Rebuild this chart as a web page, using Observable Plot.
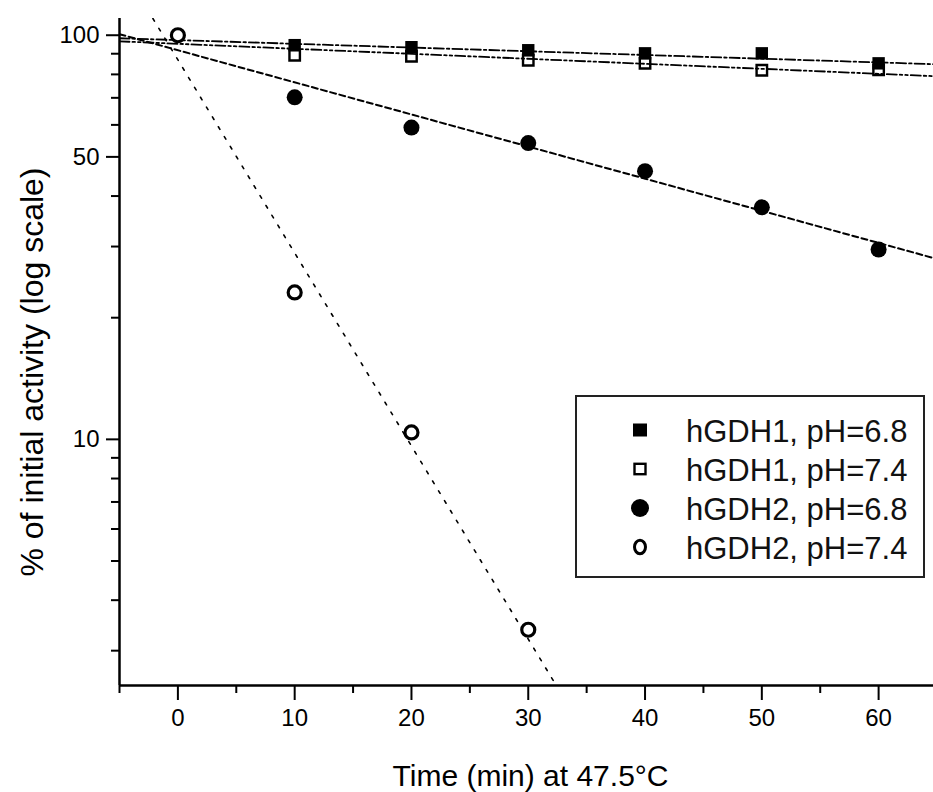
<!DOCTYPE html>
<html>
<head>
<meta charset="utf-8">
<script src="https://cdn.jsdelivr.net/npm/d3@7"></script>
<script src="https://cdn.jsdelivr.net/npm/@observablehq/plot@0.6"></script>
<style>
  html, body { margin: 0; padding: 0; background: #fff; }
  #wrap { position: relative; width: 933px; height: 792px; font-family: 'Liberation Sans', Arial, sans-serif; }
  #legend { position: absolute; left: 575px; top: 395px; }
</style>
</head>
<body>
<div id="wrap"></div>
<script>
// ---- data ----
const timesSquares = [10, 20, 30, 40, 50, 60];
const hGDH1_pH68 = [94.5, 93.4, 91.8, 90.2, 90.2, 85.2];
const hGDH1_pH74 = [89.2, 88.7, 86.7, 85.2, 81.9, 82.1];
const timesFilledCircles = [10, 20, 30, 40, 50, 60];
const hGDH2_pH68 = [70.2, 59.1, 54.1, 46.1, 37.5, 29.5];
const timesOpenCircles = [0, 10, 20, 30];
const hGDH2_pH74 = [100, 23.1, 10.4, 3.38];

// fitted lines (end points)
const fitTimes = [-5, 64.7];
const fit_hGDH1_pH68 = [98.3, 84.8];
const fit_hGDH1_pH74 = [96.6, 79.2];
const fit_hGDH2_pH68 = [100.6, 28.1];
const fitTimes_hGDH2_pH74 = [-2.14, 32.4];
const fit_hGDH2_pH74 = [110, 2.46];

// axes
const xDomain = [-5, 64.7];
const yDomain = [2.46, 110];
const xMajorTicks = [0, 10, 20, 30, 40, 50, 60];
const xMinorTicks = [-5, 5, 15, 25, 35, 45, 55];
const yMajorTicks = [10, 50, 100];
const yMinorTicks = [3, 4, 5, 6, 7, 8, 9, 20, 30, 40, 60, 70, 80, 90];
const xTitle = "Time (min) at 47.5°C";
const yTitle = "% of initial activity (log scale)";
const legendLabels = ["hGDH1, pH=6.8", "hGDH1, pH=7.4", "hGDH2, pH=6.8", "hGDH2, pH=7.4"];

const table = (ts, vs) => ts.map((t, i) => ({t, v: vs[i]}));

const chart = Plot.plot({
  width: 933,
  height: 792,
  marginLeft: 119,
  marginRight: 0,
  marginTop: 18,
  marginBottom: 107,
  x: {type: "linear", domain: xDomain},
  y: {type: "log", domain: yDomain},
  style: {fontFamily: "'Liberation Sans', Arial, sans-serif", fontSize: "24px", color: "#000", background: "white"},
  marks: [
    // fit lines
    Plot.line(table(fitTimes, fit_hGDH1_pH68), {x: "t", y: "v", stroke: "#000", strokeWidth: 1.8, strokeDasharray: "10,3,2.5,3", clip: true}),
    Plot.line(table(fitTimes, fit_hGDH1_pH74), {x: "t", y: "v", stroke: "#000", strokeWidth: 1.8, strokeDasharray: "10,3,2.5,3,2.5,3", clip: true}),
    Plot.line(table(fitTimes, fit_hGDH2_pH68), {x: "t", y: "v", stroke: "#000", strokeWidth: 2, strokeDasharray: "6,3.5", clip: true}),
    Plot.line(table(fitTimes_hGDH2_pH74, fit_hGDH2_pH74), {x: "t", y: "v", stroke: "#000", strokeWidth: 1.6, strokeDasharray: "3,8.5", clip: true}),
    // points
    Plot.dot(table(timesSquares, hGDH1_pH68), {x: "t", y: "v", symbol: "square", r: 7, fill: "#000", stroke: "none"}),
    Plot.dot(table(timesSquares, hGDH1_pH74), {x: "t", y: "v", symbol: "square", r: 5.9, fill: "none", stroke: "#000", strokeWidth: 2.4}),
    Plot.dot(table(timesFilledCircles, hGDH2_pH68), {x: "t", y: "v", r: 8, fill: "#000", stroke: "none"}),
    Plot.dot(table(timesOpenCircles, hGDH2_pH74), {x: "t", y: "v", r: 6.5, fill: "white", stroke: "#000", strokeWidth: 3.2}),
    // axes
    Plot.axisX(xMajorTicks, {tickSize: 15, tickPadding: 8, fontSize: 24, strokeWidth: 2, label: null, tickFormat: d3.format("d")}),
    Plot.axisX(xMinorTicks, {tickSize: 8, strokeWidth: 2, label: null, tickFormat: () => ""}),
    Plot.axisY(yMajorTicks, {tickSize: 13, tickPadding: 7, fontSize: 24, strokeWidth: 2, label: null, tickFormat: d3.format("d")}),
    Plot.axisY(yMinorTicks, {tickSize: 8, strokeWidth: 2, label: null, tickFormat: () => ""}),
    Plot.ruleX([xDomain[0]], {stroke: "#000", strokeWidth: 2.5}),
    Plot.ruleY([yDomain[0]], {stroke: "#000", strokeWidth: 2.5}),
    // axis titles
    Plot.text([xTitle], {text: d => d, frameAnchor: "bottom", textAnchor: "middle", dy: 100, dx: 4, lineAnchor: "bottom", fontSize: 30, fill: "#000"}),
    Plot.text([yTitle], {text: d => d, frameAnchor: "left", textAnchor: "middle", dx: -77, dy: 20, rotate: -90, lineAnchor: "bottom", fontSize: 32, fill: "#000"})
  ]
});

const wrap = document.getElementById("wrap");
wrap.appendChild(chart);

// legend (drawn as an overlay box)
const lw = 350, lh = 183;
const legend = d3.create("svg").attr("id", "legend").attr("width", lw).attr("height", lh)
  .style("font-family", "'Liberation Sans', Arial, sans-serif");
legend.append("rect").attr("x", 1).attr("y", 1).attr("width", lw - 2).attr("height", lh - 2)
  .attr("fill", "white").attr("stroke", "#222").attr("stroke-width", 2);
const rowCenters = [35, 74, 113, 152];
const mx = 65;
const symbols = [
  g => g.append("rect").attr("x", mx - 7).attr("y", -6.5).attr("width", 14).attr("height", 13).attr("fill", "#000"),
  g => g.append("rect").attr("x", mx - 5.5).attr("y", -5.2).attr("width", 11).attr("height", 10.4).attr("fill", "none").attr("stroke", "#000").attr("stroke-width", 2.4),
  g => g.append("circle").attr("cx", mx).attr("cy", 0).attr("r", 9).attr("fill", "#000"),
  g => g.append("ellipse").attr("cx", mx).attr("cy", 0).attr("rx", 5.5).attr("ry", 6.8).attr("fill", "none").attr("stroke", "#000").attr("stroke-width", 3)
];
legendLabels.forEach((lab, i) => {
  const g = legend.append("g").attr("transform", `translate(0,${rowCenters[i]})`);
  symbols[i](g);
  g.append("text").attr("x", 111).attr("y", 12).attr("font-size", 31).attr("fill", "#111").text(lab);
});
wrap.appendChild(legend.node());
</script>
</body>
</html>
